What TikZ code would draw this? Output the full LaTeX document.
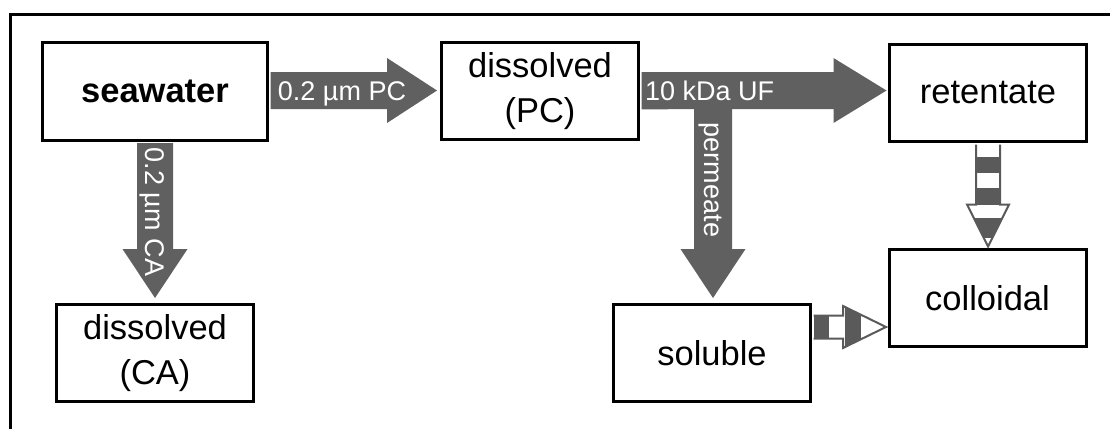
\documentclass[tikz,border=0pt]{standalone}
\usepackage{fontspec}
\setmainfont{Liberation Sans}
\usetikzlibrary{calc}
\definecolor{agray}{RGB}{96,96,96}
\definecolor{sgray}{RGB}{90,90,90}
\tikzset{
  box/.style={draw=black, line width=3pt, fill=white, minimum width=197pt, minimum height=97pt,
    align=center, inner sep=0pt, font=\fontsize{34.5}{45}\selectfont},
  blockarrow/.style={fill=agray, draw=none},
  albl/.style={text=white, font=\fontsize{27}{30}\selectfont, inner sep=0pt},
  stripeout/.style={draw=sgray, line width=2pt, line join=miter},
  stripefill/.style={fill=sgray}
}
\begin{document}
\begin{tikzpicture}[x=1pt,y=-1pt]
\clip (0,0) rectangle (1110,428);
\fill[white] (0,0) rectangle (1110,428);
% frame
\draw[line width=2.6pt] (10.5,440) -- (10.5,14.5) -- (1130,14.5);
% boxes
\node[box, minimum width=225pt, font=\fontsize{34.5}{45}\selectfont\bfseries] (sw) at (155,91.5) {seawater};
\node[box] (ca) at (155,353) {dissolved\\(CA)};
\node[box] (pc) at (540,91) {dissolved\\(PC)};
\node[box] (sol) at (712,353) {soluble};
\node[box] (ret) at (988,93) {retentate};
\node[box] (col) at (987.5,298) {colloidal};
% seawater -> dissolved (PC)
\coordinate (a1) at ($(sw.east)+(1.5,-1)$);
\coordinate (t1) at ($(pc.west)+(-3,-0.5)$);
\fill[blockarrow] ($(a1)+(0,-18.5)$) -- ($(t1)+(-50,-18.5)$) -- ($(t1)+(-50,-32.5)$) -- (t1)
  -- ($(t1)+(-50,32.5)$) -- ($(t1)+(-50,18.5)$) -- ($(a1)+(0,18.5)$) -- cycle;
\node[albl, anchor=base] (l1) at (342,100) {0.2 µm PC};
% seawater -> dissolved (CA)
\coordinate (a2) at ($(sw.south)+(0,1.5)$);
\coordinate (t2) at ($(ca.north)+(0,-5)$);
\fill[blockarrow] ($(a2)+(-18,0)$) -- ($(t2)+(-18,-49)$) -- ($(t2)+(-32.5,-49)$) -- (t2)
  -- ($(t2)+(32.5,-49)$) -- ($(t2)+(18,-49)$) -- ($(a2)+(18,0)$) -- cycle;
\node[albl, anchor=base, rotate=-90] (l2) at (145.5,212) {0.2 µm CA};
% dissolved (PC) -> retentate and permeate -> soluble
\coordinate (a3) at ($(pc.east)+(1.5,0)$);
\coordinate (t3) at ($(ret.west)+(-1.5,-2.5)$);
\coordinate (t4) at ($(sol.north)+(1,-5)$);
\fill[blockarrow] ($(a3)+(0,-19)$) -- ($(t3)+(-53,-18.5)$) -- ($(t3)+(-53,-32.5)$) -- (t3)
  -- ($(t3)+(-53,32.5)$) -- ($(t3)+(-53,18.5)$) -- ($(t4)+(19,-189)$)
  -- ($(t4)+(19,-49)$) -- ($(t4)+(32.5,-49)$) -- (t4) -- ($(t4)+(-32.5,-49)$) -- ($(t4)+(-19,-49)$)
  -- ($(t4)+(-19,-189)$) -- ($(a3)+(0,18.5)$) -- cycle;
\node[albl, anchor=base west] (l3) at (645,100) {10 kDa UF};
\node[albl, anchor=base, rotate=-90] (l4) at (704.5,180) {permeate};
% retentate -> colloidal (striped)
\coordinate (a5) at ($(ret.south)+(0,1.5)$);
\coordinate (t5) at ($(col.north)+(0.5,-1.5)$);
\begin{scope}
\clip ($(a5)+(-12,0)$) -- ($(t5)+(-12,-42)$) -- ($(t5)+(-21,-42)$) -- (t5)
  -- ($(t5)+(21,-42)$) -- ($(t5)+(12,-42)$) -- ($(a5)+(12,0)$) -- cycle;
\fill[white] ($(a5)+(-30,0)$) rectangle ($(t5)+(30,0)$);
\fill[stripefill] ($(a5)+(-30,12)$) rectangle ($(a5)+(30,28)$);
\fill[stripefill] ($(a5)+(-30,43)$) rectangle ($(a5)+(30,60)$);
\fill[stripefill] ($(a5)+(-30,73)$) rectangle ($(a5)+(30,93)$);
\end{scope}
\draw[stripeout] ($(a5)+(-12,0)$) -- ($(t5)+(-12,-42)$) -- ($(t5)+(-21,-42)$) -- (t5)
  -- ($(t5)+(21,-42)$) -- ($(t5)+(12,-42)$) -- ($(a5)+(12,0)$);
% soluble -> colloidal (striped)
\coordinate (a6) at ($(sol.east)+(1.5,-26)$);
\coordinate (t6) at ($(col.west)+(-1.5,29)$);
\begin{scope}
\clip ($(a6)+(0,-11.5)$) -- ($(t6)+(-43,-11.5)$) -- ($(t6)+(-43,-21)$) -- (t6)
  -- ($(t6)+(-43,21)$) -- ($(t6)+(-43,11.5)$) -- ($(a6)+(0,11.5)$) -- cycle;
\fill[white] ($(a6)+(0,-30)$) rectangle ($(t6)+(0,30)$);
\fill[stripefill] ($(a6)+(0,-30)$) rectangle ($(a6)+(15,30)$);
\fill[stripefill] ($(a6)+(31,-30)$) rectangle ($(a6)+(47,30)$);
\end{scope}
\draw[stripeout] ($(a6)+(0,-11.5)$) -- ($(t6)+(-43,-11.5)$) -- ($(t6)+(-43,-21)$) -- (t6)
  -- ($(t6)+(-43,21)$) -- ($(t6)+(-43,11.5)$) -- ($(a6)+(0,11.5)$);
\end{tikzpicture}
\end{document}
